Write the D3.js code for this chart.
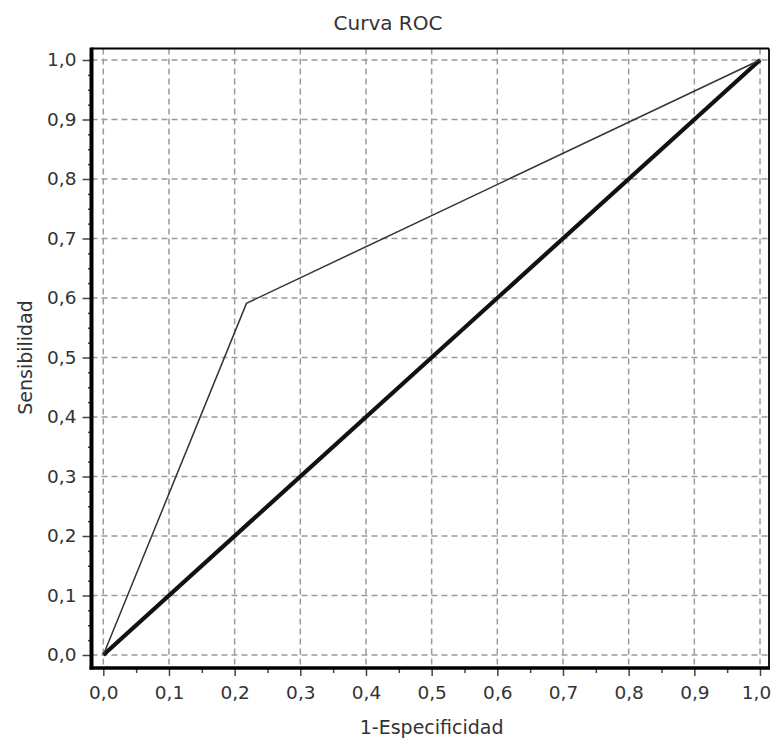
<!DOCTYPE html>
<html><head><meta charset="utf-8">
<script src="https://cdn.jsdelivr.net/npm/d3@7"></script>
<style>body{margin:0;background:#fff}svg{display:block}</style>
</head><body>
<svg id="c" width="773" height="740"></svg>
<script>
const title = "Curva ROC";
const xTitle = "1-Especificidad";
const yTitle = "Sensibilidad";
const tickValues = [0,0.1,0.2,0.3,0.4,0.5,0.6,0.7,0.8,0.9,1.0];
const tickLabels = ["0,0","0,1","0,2","0,3","0,4","0,5","0,6","0,7","0,8","0,9","1,0"];
const rocX = [0, 0.218, 1];
const rocY = [0, 0.591, 1];
const refX = [0, 1];
const refY = [0, 1];

const svg = d3.select("#c");
const x = d3.scaleLinear().domain([0,1]).range([103.3, 760]);
const y = d3.scaleLinear().domain([0,1]).range([655, 60]);
const font = "DejaVu Sans, Verdana, sans-serif";
const L = 91.5, R = 769, T = 48.5, B = 668;

svg.append("rect").attr("x",L).attr("y",T).attr("width",R-L).attr("height",B-T).attr("fill","#fff");

// gridlines
const g = svg.append("g").attr("stroke","#9a9a9a").attr("stroke-width",1.5).attr("stroke-dasharray","6,4");
tickValues.forEach(v=>{
  g.append("line").attr("x1",x(v)).attr("x2",x(v)).attr("y1",T).attr("y2",B);
  g.append("line").attr("y1",y(v)).attr("y2",y(v)).attr("x1",L).attr("x2",R);
});

// frame thin top/right
svg.append("line").attr("x1",L).attr("x2",R).attr("y1",T).attr("y2",T).attr("stroke","#000").attr("stroke-width",1.8);
svg.append("line").attr("x1",R).attr("x2",R).attr("y1",T).attr("y2",B).attr("stroke","#000").attr("stroke-width",1.8);

// axes
const xAxis = d3.axisBottom(x).tickValues(tickValues).tickFormat((d,i)=>tickLabels[i]).tickSize(8).tickPadding(10);
const xg = svg.append("g").attr("transform",`translate(0,${B})`).call(xAxis);
const xMinor = d3.axisBottom(x).tickValues(d3.range(0.05,1,0.1)).tickFormat("").tickSize(5);
svg.append("g").attr("transform",`translate(0,${B})`).call(xMinor).select(".domain").remove();
const yAxis = d3.axisLeft(y).tickValues(tickValues).tickFormat((d,i)=>tickLabels[i]).tickSize(9).tickPadding(6);
const yg = svg.append("g").attr("transform",`translate(${L},0)`).call(yAxis);
const yMinorVals = d3.range(0,41).map(i=>i/40).filter((v,i)=>i%4!==0);
const yMinor = d3.axisLeft(y).tickValues(yMinorVals).tickFormat("").tickSize(3.5);
svg.append("g").attr("transform",`translate(${L},0)`).call(yMinor).select(".domain").remove();

[xg,yg].forEach(a=>{
  a.select(".domain").remove();
  a.selectAll("text").attr("font-family",font).attr("font-size",18.5).attr("fill","#333");
});
xg.selectAll(".tick text").filter(d=>d===1).attr("dx",-4);
svg.selectAll(".tick line").attr("stroke","#444").attr("stroke-width",1.5);

// thick axis lines
svg.append("line").attr("x1",L).attr("x2",L).attr("y1",T-1).attr("y2",B+1.5).attr("stroke","#000").attr("stroke-width",4);
svg.append("line").attr("x1",L-2).attr("x2",R+1).attr("y1",B).attr("y2",B).attr("stroke","#000").attr("stroke-width",3.5);

// reference diagonal
const line = d3.line().x(d=>x(d[0])).y(d=>y(d[1]));
svg.append("path").datum(refX.map((v,i)=>[v,refY[i]])).attr("d",line)
  .attr("fill","none").attr("stroke","#111").attr("stroke-width",4.2);
// ROC curve
svg.append("path").datum(rocX.map((v,i)=>[v,rocY[i]])).attr("d",line)
  .attr("fill","none").attr("stroke","#333").attr("stroke-width",1.5);

// titles
svg.append("text").attr("x",388).attr("y",30).attr("text-anchor","middle")
  .attr("font-family",font).attr("font-size",20).attr("fill","#333").text(title);
svg.append("text").attr("x",x(0.5)).attr("y",734).attr("text-anchor","middle")
  .attr("font-family",font).attr("font-size",19).attr("fill","#333").text(xTitle);
svg.append("text").attr("transform",`translate(32,${y(0.5)}) rotate(-90)`).attr("text-anchor","middle")
  .attr("font-family",font).attr("font-size",19).attr("fill","#333").text(yTitle);
</script>
</body></html>
